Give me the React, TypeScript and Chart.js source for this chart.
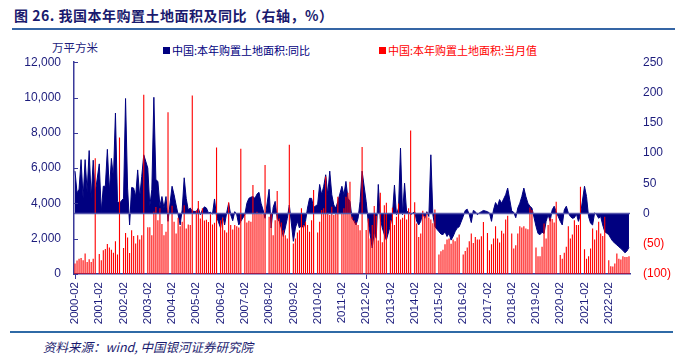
import React, { useEffect, useRef } from 'react';
import { Chart, registerables } from 'chart.js';

Chart.register(...registerables);

// Years shown on the category axis (monthly, Feb..Dec; January is not published)
const years = [2000, 2001, 2002, 2003, 2004, 2005, 2006, 2007, 2008, 2009, 2010, 2011,
  2012, 2013, 2014, 2015, 2016, 2017, 2018, 2019, 2020, 2021, 2022];

// 中国:本年购置土地面积:当月值 (万平方米), Feb..Dec per year
const monthlyArea: number[][] = [
  [590, 760, 870, 910, 780, 1160, 680, 830, 680, 870, 6560],
  [1140, 780, 1350, 1420, 1700, 1500, 1380, 1210, 1860, 1100, 7735],
  [1480, 2330, 2070, 1190, 2480, 2160, 1730, 2200, 1950, 2200, 10160],
  [2650, 2650, 2200, 3530, 3790, 3050, 3720, 2830, 2200, 2390, 9160],
  [3870, 2960, 2290, 3180, 2710, 2960, 3900, 2580, 2800, 2770, 10120],
  [3600, 4130, 3150, 3720, 3030, 3070, 2940, 3390, 2800, 2900, 7170],
  [3050, 3190, 2480, 2350, 4060, 2770, 2520, 2770, 2710, 2640, 7090],
  [3430, 2920, 3010, 2960, 5040, 3430, 3530, 3430, 3430, 3390, 6180],
  [3240, 3470, 2200, 3050, 4700, 3150, 2920, 2480, 2200, 2010, 7320],
  [1730, 2010, 2350, 2480, 3720, 2770, 2960, 2770, 2390, 3050, 4760],
  [2350, 2960, 3620, 3720, 5520, 3430, 3340, 3810, 3340, 3430, 4380],
  [3430, 3720, 4380, 4610, 5230, 3240, 3050, 2920, 2770, 2480, 7190],
  [2500, 3150, 2010, 2770, 3850, 3300, 1900, 4600, 1800, 3900, 4040],
  [3050, 3750, 2770, 3240, 4000, 3090, 3190, 3370, 3090, 3720, 8130],
  [4060, 2860, 2100, 2290, 3580, 3280, 3490, 3200, 3090, 2880, 3660],
  [1100, 1290, 1380, 1690, 1950, 2010, 1720, 1950, 1860, 2070, 2240],
  [1100, 1310, 1500, 1860, 2290, 1760, 2100, 1950, 1950, 2140, 2950],
  [2330, 1350, 1690, 2010, 2710, 2010, 1780, 2450, 2290, 3090, 3300],
  [2290, 1440, 1630, 2290, 2710, 2640, 2710, 2580, 2540, 3770, 3620],
  [1500, 1000, 1000, 1540, 2860, 2010, 2770, 3190, 3110, 2920, 4100],
  [1080, 870, 1210, 1540, 2710, 2010, 2240, 3050, 2770, 2770, 4950],
  [1400, 870, 1000, 1440, 2580, 1950, 2480, 2960, 2290, 2160, 3240],
  [780, 440, 420, 590, 1160, 870, 820, 1000, 970, 970, 1000],
];

// 中国:本年购置土地面积:同比 (%), Feb..Dec per year
const yoyGrowth: number[][] = [
  [70, 34, 40, 89, 25, 89, 36, 104, 25, 88, 34],
  [82, 3, 45, 45, 106, 36, 91, 59, 166, 20, 17],
  [25, 190, 42, -19, 43, 42, 28, 72, 27, 61, 97],
  [75, 12, 40, 192, 56, 53, 12, 28, 9, 28, -13],
  [45, 31, 14, -2, -19, 6, 59, 25, 6, 9, 4],
  [3, 9, -2, 6, 11, 9, 1, 2, -1, 24, -5],
  [-24, -2, -19, 1, 17, -2, -12, 3, -2, -19, -13],
  [-2, 17, 25, 27, 28, 25, 32, 35, 17, 6, -8],
  [40, -24, 10, 20, -8, -13, -24, -38, -24, -8, 14],
  [-46, -24, -13, -24, -19, -24, -13, 9, 25, 25, 10],
  [15, 48, 31, 45, 64, 31, 70, 31, 14, 9, 20],
  [45, 31, 53, 25, 20, -8, -13, -19, -8, 20, 70],
  [20, -13, -35, -57, -30, -41, 48, -8, -24, -35, -44],
  [-19, -2, 47, -2, 9, 108, -2, 50, 3, 3, -2],
  [3, -13, -19, -13, 1, -8, 3, -5, 97, -2, -22],
  [-30, -34, -35, -30, -38, -33, -44, -38, -30, -24, -22],
  [-5, 5, 7, -2, -15, 5, 3, -2, 1, 3, 5],
  [3, 1, -13, 6, 18, 12, 23, 17, 24, 31, 42],
  [4, 2, -7, 9, 17, 28, 42, 28, 17, 12, 9],
  [-21, -33, -35, -31, -33, -13, -2, -13, 6, 12, 3],
  [-13, -19, 6, 12, 1, -5, -8, -7, -1, -13, -2],
  [45, 28, -5, -16, -19, 1, -2, -8, -5, -19, -30],
  [-35, -41, -46, -49, -52, -55, -58, -61, -65, -62, -56],
];

const leftTicks = [0, 2000, 4000, 6000, 8000, 10000, 12000];
const rightTicks = [-100, -50, 0, 50, 100, 150, 200, 250];

const NAVY = '#000080';
const TEXT = '#1c1c7c';
const AXIS = '#3a3a9a';
const RED = '#ff0000';

function buildLabels(): string[] {
  const out: string[] = [];
  years.forEach((y, k) => {
    if (k > 0) out.push(`${y}-01`);
    for (let m = 2; m <= 12; m++) out.push(`${y}-${m < 10 ? '0' + m : m}`);
  });
  return out;
}

function flatten(rows: number[][]): (number | null)[] {
  const out: (number | null)[] = [];
  rows.forEach((r, k) => {
    if (k > 0) out.push(null);
    r.forEach((v) => out.push(v));
  });
  return out;
}

const overlayPlugin = {
  id: 'overlay',
  afterDatasetsDraw(chart: any) {
    const { ctx, chartArea, scales } = chart;
    const y2 = scales.y2;
    const y = scales.y;
    ctx.save();
    // zero line of right axis
    const z = y2.getPixelForValue(0);
    ctx.strokeStyle = '#5656ac';
    ctx.lineWidth = 1.5;
    ctx.beginPath();
    ctx.moveTo(chartArea.left, z);
    ctx.lineTo(chartArea.right, z);
    ctx.stroke();
    // inward tick marks on left axis
    ctx.strokeStyle = AXIS;
    ctx.lineWidth = 1;
    leftTicks.forEach((v) => {
      const py = Math.round(y.getPixelForValue(v)) + 0.5;
      ctx.beginPath();
      ctx.moveTo(chartArea.left, py);
      ctx.lineTo(chartArea.left + 4, py);
      ctx.stroke();
    });
    ctx.restore();
  },
};

export default function App() {
  const canvasRef = useRef<HTMLCanvasElement | null>(null);

  useEffect(() => {
    const labels = buildLabels();
    const bars = flatten(monthlyArea);
    const yoy = flatten(yoyGrowth);
    const tickFont = { family: "'Liberation Sans', Arial, sans-serif", size: 12 };
    const chart = new Chart(canvasRef.current as HTMLCanvasElement, {
      data: {
        labels,
        datasets: [
          {
            type: 'bar',
            label: '中国:本年购置土地面积:当月值',
            data: bars,
            yAxisID: 'y',
            backgroundColor: RED,
            borderWidth: 0,
            barPercentage: 0.55,
            categoryPercentage: 1,
            order: 0,
          } as any,
          {
            type: 'line',
            label: '中国:本年购置土地面积:同比',
            data: yoy,
            yAxisID: 'y2',
            borderColor: NAVY,
            backgroundColor: NAVY,
            borderWidth: 1,
            fill: 'origin',
            pointRadius: 0,
            spanGaps: true,
            tension: 0,
            order: 1,
          } as any,
        ],
      },
      options: {
        animation: false,
        responsive: false,
        devicePixelRatio: 1,
        layout: { padding: { top: 11, left: 0, right: 0, bottom: 0 } },
        plugins: { legend: { display: false }, tooltip: { enabled: false } },
        scales: {
          x: {
            type: 'category',
            offset: true,
            grid: {
              display: true,
              drawOnChartArea: false,
              drawTicks: true,
              tickLength: 5,
              offset: false,
              lineWidth: 1,
              color: (c: any) => (labels[c.index] && labels[c.index].endsWith('-02') ? AXIS : 'rgba(0,0,0,0)'),
            },
            border: { display: true, color: AXIS, width: 1.5 },
            ticks: {
              autoSkip: false,
              maxRotation: 90,
              minRotation: 90,
              padding: 3,
              color: TEXT,
              font: { family: "'Liberation Sans', Arial, sans-serif", size: 11.5 },
              callback: (_v: any, i: number) => (labels[i].endsWith('-02') ? labels[i] : null),
            },
            afterFit: (s: any) => { s.height = 58; },
          },
          y: {
            position: 'left',
            min: 0,
            max: 12000,
            afterBuildTicks: (s: any) => { s.ticks = leftTicks.map((v) => ({ value: v })); },
            ticks: {
              padding: 13,
              color: TEXT,
              font: tickFont,
              callback: (v: any) => Number(v).toLocaleString('en-US'),
            },
            grid: { display: false, drawTicks: false },
            border: { display: true, color: AXIS, width: 1.5 },
            afterFit: (s: any) => { s.width = 74; },
          },
          y2: {
            position: 'right',
            min: -100,
            max: 250,
            afterBuildTicks: (s: any) => { s.ticks = rightTicks.map((v) => ({ value: v })); },
            ticks: {
              padding: 13,
              font: tickFont,
              color: (c: any) => (c.tick && c.tick.value < 0 ? RED : TEXT),
              callback: (v: any) => (Number(v) < 0 ? `(${-Number(v)})` : `${v}`),
            },
            grid: { display: false, drawTicks: false },
            border: { display: false },
            afterFit: (s: any) => { s.width = 61; },
          },
        },
      } as any,
      plugins: [overlayPlugin],
    });
    return () => chart.destroy();
  }, []);

  const cjk = "'Noto Sans CJK SC', 'Noto Sans', sans-serif";

  return (
    <div style={{ position: 'fixed', left: 0, top: 0, width: 691, height: 362, background: '#fff', overflow: 'hidden' }}>
      <div style={{ position: 'absolute', left: 14, top: 5, height: 20, lineHeight: '20px', fontFamily: cjk, fontWeight: 700, fontSize: 14, letterSpacing: '0.5px', color: '#1a1a6e', whiteSpace: 'nowrap' }}>
        图 26. 我国本年购置土地面积及同比（右轴，%）
      </div>
      <div style={{ position: 'absolute', left: 12, top: 28, width: 663, height: 2, background: '#3565a5' }} />
      <div style={{ position: 'absolute', left: 52, top: 39, lineHeight: '16px', fontFamily: cjk, fontSize: 11.5, color: TEXT, whiteSpace: 'nowrap' }}>
        万平方米
      </div>
      <div style={{ position: 'absolute', left: 163, top: 47, width: 7, height: 7, background: NAVY }} />
      <div style={{ position: 'absolute', left: 172, top: 42, lineHeight: '16px', fontFamily: cjk, fontSize: 11, color: NAVY, whiteSpace: 'nowrap' }}>
        中国:本年购置土地面积:同比
      </div>
      <div style={{ position: 'absolute', left: 379, top: 47, width: 7, height: 7, background: RED }} />
      <div style={{ position: 'absolute', left: 388, top: 42, lineHeight: '16px', fontFamily: cjk, fontSize: 11, color: RED, whiteSpace: 'nowrap' }}>
        中国:本年购置土地面积:当月值
      </div>
      <canvas ref={canvasRef} width={691} height={290} style={{ position: 'absolute', left: 0, top: 42, width: 691, height: 290 }} />
      <div style={{ position: 'absolute', left: 10, top: 331, width: 663, height: 2, background: '#2f6aa6' }} />
      <div style={{ position: 'absolute', left: 43, top: 338, lineHeight: '17px', fontFamily: cjk, fontStyle: 'italic', fontSize: 12.5, color: '#1a1a6e', whiteSpace: 'nowrap' }}>
        资料来源：wind, 中国银河证券研究院
      </div>
    </div>
  );
}
